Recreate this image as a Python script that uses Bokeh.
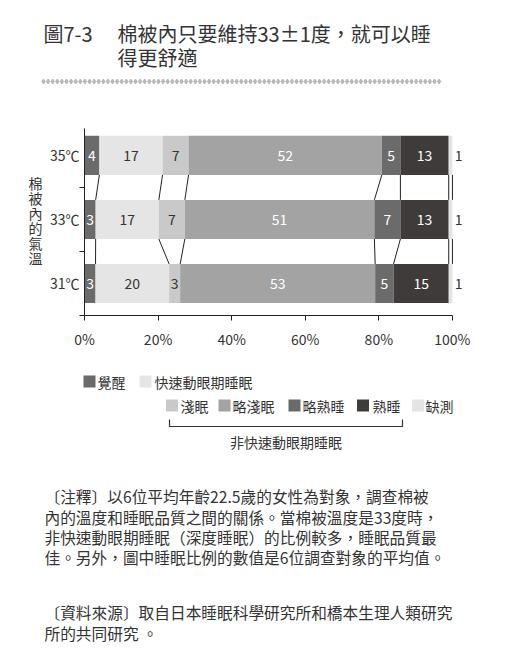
import numpy as np
from bokeh.plotting import figure
from bokeh.layouts import column, row
from bokeh.models import Range1d, FixedTicker
from bokeh.core.properties import value
from bokeh.embed import file_html
from bokeh.resources import INLINE

FONT = "Noto Sans CJK TC"
TXT = "#333333"

# ---------------- data ----------------
temps = ["31℃", "33℃", "35℃"]
temp_pos = [0.5, 1.5, 2.5]
stages = ["覺醒", "快速動眼期睡眠", "淺眠", "略淺眠", "略熟睡", "熟睡", "缺測"]
awake = [3, 3, 4]
rem = [20, 17, 17]
light = [3, 7, 7]
mod_light = [53, 51, 52]
mod_deep = [5, 7, 5]
deep = [15, 13, 13]
missing = [1, 1, 1]
colors = ["#6b6b6b", "#e5e5e5", "#c9c9c9", "#a3a3a3", "#6b6b6b", "#403b3b", "#e4e4e4"]
label_colors = ["white", TXT, TXT, "white", "white", "white", TXT]
x_ticks = [0, 20, 40, 60, 80, 100]
x_tick_labels = ["0%", "20%", "40%", "60%", "80%", "100%"]

title_no = "圖7-3"
title_lines = ["棉被內只要維持33±1度，就可以睡", "得更舒適"]
y_title = "棉被內的氣溫"
nrem_label = "非快速動眼期睡眠"
notes = [
    "〔注釋〕以6位平均年齡22.5歲的女性為對象，調查棉被",
    "內的溫度和睡眠品質之間的關係。當棉被溫度是33度時，",
    "非快速動眼期睡眠（深度睡眠）的比例較多，睡眠品質最",
    "佳。另外，圖中睡眠比例的數值是6位調查對象的平均值。",
    "〔資料來源〕取自日本睡眠科學研究所和橋本生理人類研究",
    "所的共同研究 。",
]

W = 505
LW = 44  # width of the strip holding the stacked y-axis title


def blank(x0, x1, y0, y1):
    f = figure(width=x1 - x0, height=y1 - y0, x_range=Range1d(x0, x1), y_range=Range1d(y1, y0),
               output_backend="svg", toolbar_location=None, min_border=0,
               x_axis_location=None, y_axis_location=None, frame_align=False)
    f.grid.visible = False
    f.outline_line_color = None
    return f


# ---------------- header ----------------
h = blank(0, W, 0, 120)
h.text(x=[43], y=[33], text=[title_no], text_font=value(FONT), text_font_size="20px",
       text_color=TXT, text_baseline="middle", text_align="left")
h.text(x=[117, 117], y=[33, 57], text=title_lines, text_font=value(FONT), text_font_size="20px",
       text_color=TXT, text_baseline="middle", text_align="left")
dots = np.arange(43, 443, 4.6)
h.scatter(x=dots, y=np.full(len(dots), 81), marker="diamond", size=5, color="#b8b8b8")

# ---------------- y-axis title strip ----------------
lbl = blank(0, LW, 120, 355)
chars = list(y_title)
lbl.text(x=[35] * len(chars), y=[182.5 + 15 * i for i in range(len(chars))], text=chars,
         text_font=value(FONT), text_font_size="14px", text_color=TXT,
         text_align="center", text_baseline="middle")

# ---------------- chart ----------------
vals = np.array([awake, rem, light, mod_light, mod_deep, deep, missing], dtype=float)
norm = vals / vals.sum(axis=0) * 100.0
cum = np.cumsum(norm, axis=0)
left = cum - norm
H = 0.61

p = figure(width=W - LW, height=235, x_range=Range1d(0, 106), y_range=Range1d(0, 2.92),
           output_backend="svg", toolbar_location=None, frame_align=False,
           min_border_left=84 - LW, min_border_right=31, min_border_top=8, min_border_bottom=40)
p.grid.visible = False
p.outline_line_color = None

for k in range(len(stages)):
    p.hbar(y=temp_pos, left=left[k], right=cum[k], height=H, color=colors[k], line_color=None)

for k in range(len(stages)):
    for i in range(len(temp_pos) - 1):
        p.segment(x0=[cum[k][i + 1]], y0=[temp_pos[i + 1] - H / 2],
                  x1=[cum[k][i]], y1=[temp_pos[i] + H / 2], line_color="#222222", line_width=1)

for k in range(len(stages)):
    if k == len(stages) - 1:
        xs = [100.6] * len(temp_pos)
        align = "left"
    else:
        xs = list((left[k] + cum[k]) / 2)
        align = "center"
    p.text(x=xs, y=temp_pos, text=[str(int(v)) for v in vals[k]], text_font=value(FONT),
           text_font_size="14px", text_color=label_colors[k], text_align=align,
           text_baseline="middle")

xa = p.xaxis[0]
xa.ticker = FixedTicker(ticks=x_ticks)
xa.major_label_overrides = dict(zip(x_ticks, x_tick_labels))
xa.bounds = (0, 100)
xa.major_tick_out = 5
xa.major_tick_in = 0
xa.minor_tick_line_color = None
xa.major_label_standoff = 8
xa.major_label_text_font = FONT
xa.major_label_text_font_size = "14px"
xa.major_label_text_color = TXT
xa.axis_line_color = "#222222"
xa.major_tick_line_color = "#222222"

ya = p.yaxis[0]
ya.ticker = FixedTicker(ticks=temp_pos, minor_ticks=[0, 1, 2])
ya.major_label_overrides = dict(zip(temp_pos, temps))
ya.major_tick_line_color = None
ya.major_tick_out = 0
ya.major_tick_in = 0
ya.minor_tick_out = 5
ya.minor_tick_in = 0
ya.minor_tick_line_color = "#222222"
ya.axis_line_color = "#222222"
ya.major_label_standoff = 0
ya.major_label_text_font = FONT
ya.major_label_text_font_size = "14px"
ya.major_label_text_color = TXT

# ---------------- footer ----------------
f = blank(0, W, 355, 662)
leg_sq_x = [89, 145, 171.5, 224, 294, 362.5, 417.5]
leg_sq_y = [381, 381, 405, 405, 405, 405, 405]
leg_tx_x = [97, 154, 180, 232, 302, 372, 425]
f.rect(x=leg_sq_x, y=leg_sq_y, width=12, height=12, color=colors, line_color=None)
f.text(x=leg_tx_x, y=leg_sq_y, text=stages, text_font=value(FONT), text_font_size="14px",
       text_color=TXT, text_baseline="middle", text_align="left")
f.line(x=[169, 169, 402, 402], y=[419, 426, 426, 419], line_color=TXT, line_width=1.2)
f.text(x=[285.5], y=[441], text=[nrem_label], text_font=value(FONT), text_font_size="14px",
       text_color=TXT, text_baseline="middle", text_align="center")
note_y = [496, 516.5, 537, 557, 612, 633]
f.text(x=[44] * len(notes), y=note_y, text=notes, text_font=value(FONT), text_font_size="15.7px",
       text_color=TXT, text_baseline="middle", text_align="left")

layout = column(h, row(lbl, p, spacing=0), f, spacing=0)
open("out.html", "w").write(file_html(layout, INLINE))
